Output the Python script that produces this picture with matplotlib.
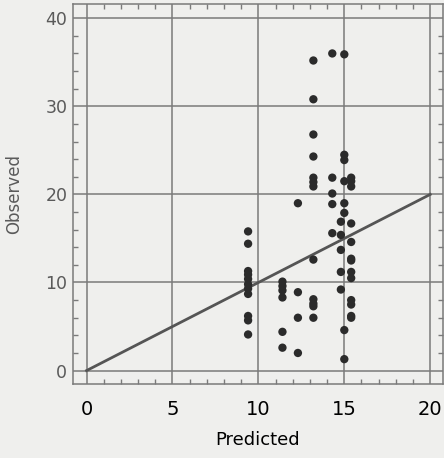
import numpy as np
from matplotlib import pyplot as plt
from matplotlib.ticker import MultipleLocator

# predicted / observed pairs, grouped by predicted value
pred_94 = [9.4] * 11
obs_94 = [15.8, 14.4, 11.3, 10.9, 10.4, 9.8, 9.3, 8.7, 6.2, 5.7, 4.1]

pred_114 = [11.4] * 6
obs_114 = [10.1, 9.6, 9.1, 8.3, 4.4, 2.6]

pred_123 = [12.3] * 4
obs_123 = [19.0, 8.9, 6.0, 2.0]

pred_132 = [13.2] * 12
obs_132 = [35.2, 30.8, 26.8, 24.3, 21.9, 21.4, 20.9, 12.6, 8.1, 7.6, 7.3, 6.0]

pred_143 = [14.3] * 5
obs_143 = [36.0, 21.9, 20.1, 18.9, 15.6]

pred_148 = [14.8] * 5
obs_148 = [16.9, 15.4, 13.7, 11.2, 9.2]

pred_150 = [15.0] * 8
obs_150 = [35.9, 24.5, 23.9, 21.5, 19.0, 17.9, 4.6, 1.3]

pred_154 = [15.4] * 13
obs_154 = [21.9, 21.5, 20.9, 16.7, 14.6, 12.7, 12.5, 11.2, 10.5, 8.0, 7.5, 6.2, 6.0]

# identity line
line_x = [0, 20]
line_y = [0, 20]

x_ticks = [0, 5, 10, 15, 20]
y_ticks = [0, 10, 20, 30, 40]

predicted = np.array(pred_94 + pred_114 + pred_123 + pred_132 + pred_143 + pred_148 + pred_150 + pred_154)
observed = np.array(obs_94 + obs_114 + obs_123 + obs_132 + obs_143 + obs_148 + obs_150 + obs_154)

bg = '#efefed'
grey = '#7a7a7a'

fig = plt.figure(figsize=(4.44, 4.58), dpi=100, facecolor=bg)
ax = fig.add_axes([0.164, 0.162, 0.834, 0.829], facecolor=bg)

ax.set_xlim(-0.8, 20.75)
ax.set_ylim(-1.5, 41.6)

ax.set_xticks(x_ticks)
ax.set_yticks(y_ticks)
ax.xaxis.set_minor_locator(MultipleLocator(1))
ax.yaxis.set_minor_locator(MultipleLocator(2))
ax.grid(True, which='major', color=grey, lw=1.1)
ax.set_axisbelow(True)

ax.tick_params(which='both', direction='in', top=True, right=True, color=grey)
ax.tick_params(which='major', length=0)
ax.tick_params(which='minor', length=3.5, width=1)
ax.tick_params(axis='x', pad=12, labelsize=14, labelcolor='black')
ax.tick_params(axis='y', pad=4, labelsize=12.5, labelcolor='#5a5a5a')

for s in ax.spines.values():
    s.set_color(grey)
    s.set_linewidth(1.1)

ax.plot(line_x, line_y, color='#555555', lw=2, zorder=3)
ax.scatter(predicted, observed, s=36, color='#2b2b2b', edgecolors='none', zorder=4)

ax.set_xlabel('Predicted', fontsize=13, color='black', labelpad=8)
ax.set_ylabel('Observed', fontsize=12, color='#5a5a5a', labelpad=16)

fig.savefig('out.png', dpi=100, facecolor=bg)
